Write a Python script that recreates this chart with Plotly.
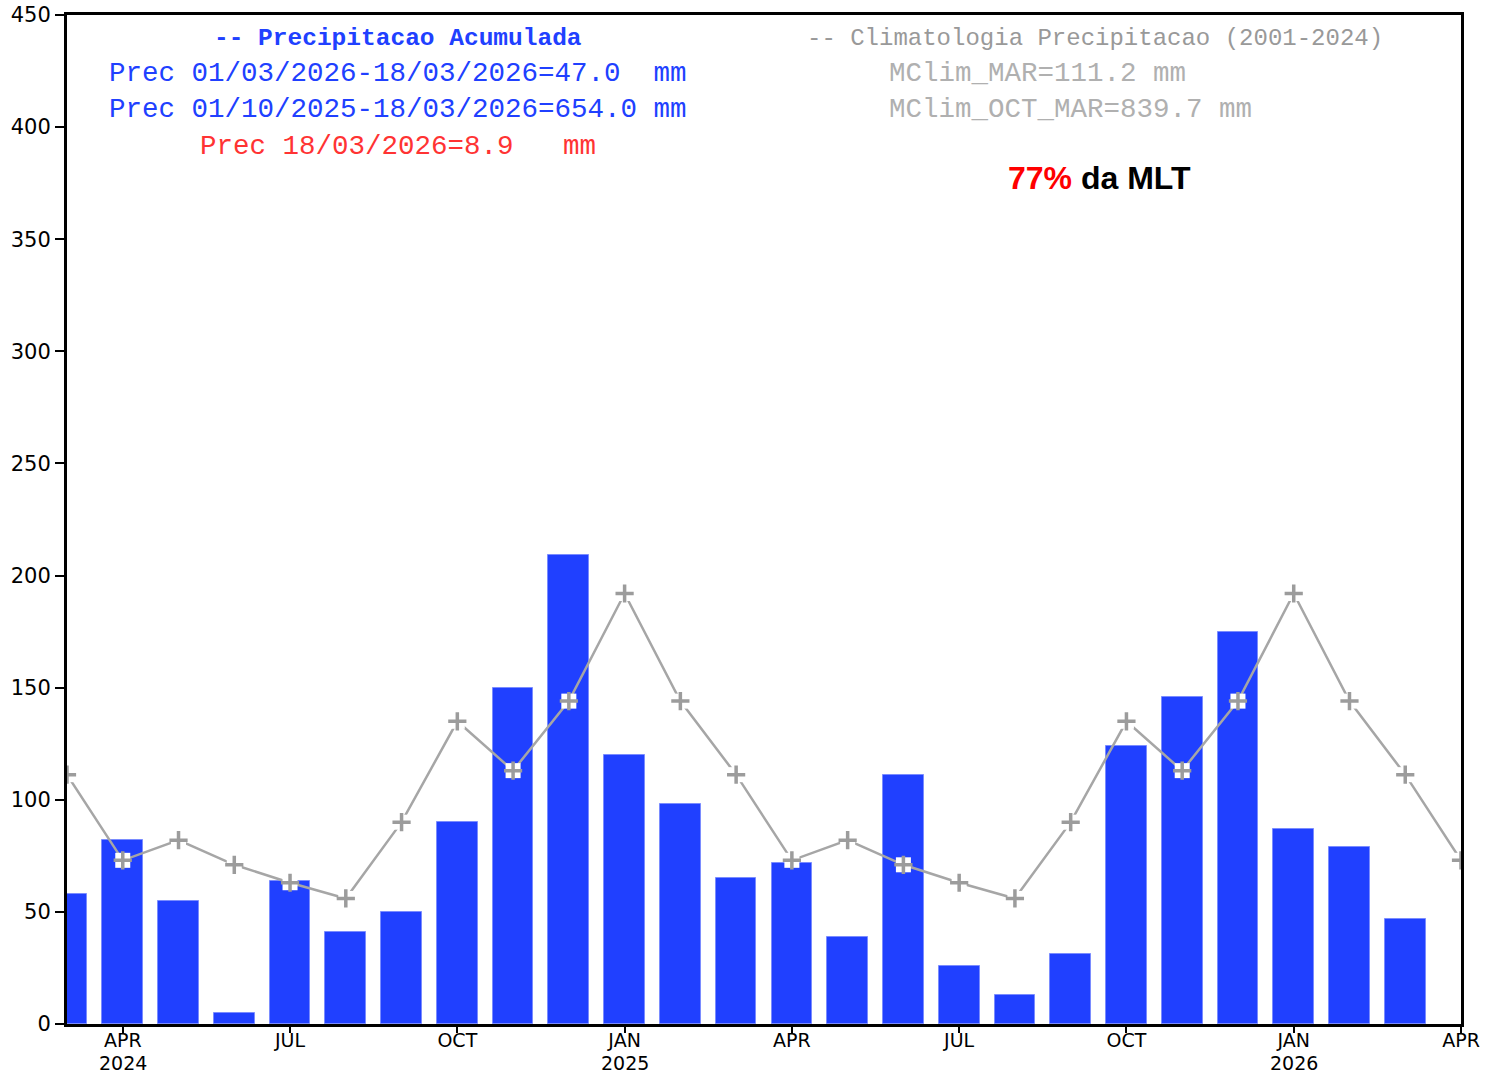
import plotly.graph_objects as go

# months from MAR 2024 to APR 2026
months = ["2024-03", "2024-04", "2024-05", "2024-06", "2024-07", "2024-08",
          "2024-09", "2024-10", "2024-11", "2024-12", "2025-01", "2025-02",
          "2025-03", "2025-04", "2025-05", "2025-06", "2025-07", "2025-08",
          "2025-09", "2025-10", "2025-11", "2025-12", "2026-01", "2026-02",
          "2026-03", "2026-04"]

prec = [58, 82, 55, 5, 64, 41, 50, 90, 150, 209, 120, 98,
        65, 72, 39, 111, 26, 13, 31, 124, 146, 175, 87, 79, 47]

clim = [111.2, 73, 82, 71, 63, 56, 90, 135, 113, 144, 192, 144,
        111.2, 73, 82, 71, 63, 56, 90, 135, 113, 144, 192, 144, 111.2, 73]

tick_months = ["2024-04", "2024-07", "2024-10", "2025-01", "2025-04",
               "2025-07", "2025-10", "2026-01", "2026-04"]
tick_text = ["APR", "JUL", "OCT", "JAN", "APR", "JUL", "OCT", "JAN", "APR"]
year_months = ["2024-04", "2025-01", "2026-01"]
year_text = ["2024", "2025", "2026"]

BLUE = "#2040ff"
GRAY = "#a6a6a6"
RED = "#ff3333"
MONO = "Liberation Mono"
TICKFONT = "DejaVu Sans"
NB = "\u00a0"

fig = go.Figure()
fig.add_trace(go.Bar(x=months[:len(prec)], y=prec, width=0.73,
                     marker=dict(color=BLUE, line=dict(color="#7a8cff", width=1))))
fig.add_trace(go.Scatter(x=months, y=clim, mode="lines+markers",
                         line=dict(color=GRAY, width=2.5),
                         marker=dict(symbol="square", size=15, color="white",
                                     line=dict(width=0))))
fig.add_trace(go.Scatter(x=months, y=clim, mode="markers",
                         marker=dict(symbol="cross-thin", size=13,
                                     line=dict(color="#9c9c9c", width=3.5))))

ann = [
    dict(text="<b>--" + NB + "Precipitacao" + NB + "Acumulada</b>", x=0.2375, y=0.977, color=BLUE, size=24.5, xanchor="center"),
    dict(text="Prec 01/03/2026-18/03/2026=47.0" + NB * 2 + "mm", x=0.2375, y=0.9425, color=BLUE, size=27.5, xanchor="center"),
    dict(text="Prec 01/10/2025-18/03/2026=654.0 mm", x=0.2375, y=0.906, color=BLUE, size=27.5, xanchor="center"),
    dict(text="Prec 18/03/2026=8.9" + NB * 3 + "mm", x=0.2375, y=0.870, color=RED, size=27.5, xanchor="center"),
    dict(text="--" + NB + "Climatologia Precipitacao (2001-2024)", x=0.7374, y=0.977, color="#999999", size=24, xanchor="center"),
    dict(text="MClim_MAR=111.2 mm", x=0.588, y=0.9425, color="#b0b0b0", size=27.5, xanchor="left"),
    dict(text="MClim_OCT_MAR=839.7 mm", x=0.588, y=0.906, color="#b0b0b0", size=27.5, xanchor="left"),
]
for a in ann:
    fig.add_annotation(text=a["text"], x=a["x"], y=a["y"], xref="paper", yref="paper",
                       xanchor=a["xanchor"], yanchor="middle", showarrow=False,
                       font=dict(family=MONO, size=a["size"], color=a["color"]))
fig.add_annotation(text="<b><span style='color:#ff0000'>77%</span> da MLT</b>",
                   x=0.741, y=0.8385, xref="paper", yref="paper", showarrow=False,
                   xanchor="center", yanchor="middle",
                   font=dict(family="Liberation Sans", size=32, color="black"))

# year labels under the month ticks
for m, t in zip(year_months, year_text):
    fig.add_annotation(text=t, x=m, xref="x", y=-0.0387, yref="paper",
                       xanchor="center", yanchor="middle", showarrow=False,
                       font=dict(family=TICKFONT, size=19, color="black"))

fig.update_layout(
    width=1489, height=1075,
    margin=dict(l=67, r=28, t=15, b=51),
    paper_bgcolor="white", plot_bgcolor="white",
    showlegend=False, bargap=0,
    font=dict(family=TICKFONT, size=21, color="black"),
)
fig.update_xaxes(type="category", categoryorder="array", categoryarray=months,
                 range=[0, len(months) - 1], automargin=False,
                 tickmode="array", tickvals=tick_months, ticktext=tick_text,
                 tickfont=dict(size=19),
                 ticks="outside", ticklen=6, tickwidth=2, tickcolor="black",
                 ticklabelstandoff=-9,
                 showline=True, linecolor="black", linewidth=3, mirror=True,
                 showgrid=False, zeroline=False)
fig.update_yaxes(range=[0, 450], dtick=50, ticks="outside", ticklen=9, tickwidth=2,
                 tickcolor="black", ticklabelstandoff=0,
                 showline=True, linecolor="black", linewidth=3,
                 mirror=True, showgrid=False, zeroline=False, automargin=False)

fig.write_html("out.html", config={"displayModeBar": False},
               post_script="document.body.style.margin='0';document.body.style.overflow='hidden';")
